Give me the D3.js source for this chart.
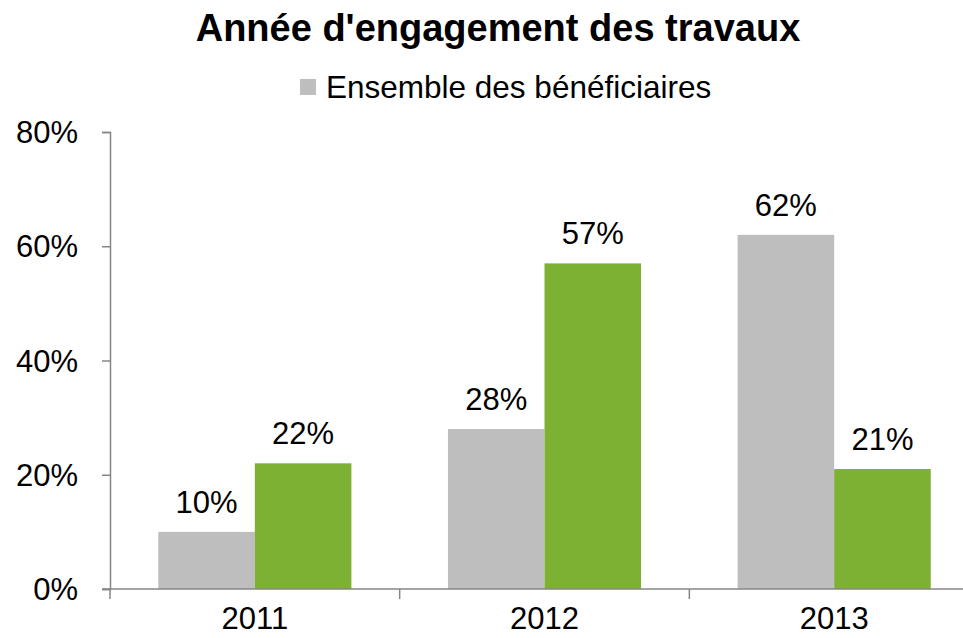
<!DOCTYPE html>
<html>
<head>
<meta charset="utf-8">
<script src="https://cdn.jsdelivr.net/npm/d3@7"></script>
<style>
  body { margin: 0; background: #fff; }
  text { font-family: "Liberation Sans", Arial, sans-serif; fill: #000; }
</style>
</head>
<body>
<svg id="chart" width="963" height="638"></svg>
<script>
const years = ["2011", "2012", "2013"];
const ensemble = [10, 28, 62];
const autre = [22, 57, 21];
const yTicks = [0, 20, 40, 60, 80];
const seriesNames = ["Ensemble des bénéficiaires", ""];
const colors = ["#bebebe", "#7cb133"];

const svg = d3.select("#chart");
const margin = {left: 110, top: 132, bottom: 49};
const plotW = 869;
const H = 638;

const x = d3.scaleBand()
  .domain(years)
  .range([margin.left, margin.left + plotW])
  .paddingInner(1/3)
  .paddingOuter(1/6);

const xSub = d3.scaleBand()
  .domain([0, 1])
  .range([0, x.bandwidth()]);

const y = d3.scaleLinear()
  .domain([0, 80])
  .range([H - margin.bottom, margin.top]);

// title
svg.append("text")
  .attr("x", 498)
  .attr("y", 41)
  .attr("text-anchor", "middle")
  .style("font-size", "38px")
  .style("font-weight", "bold")
  .text("Année d'engagement des travaux");

// legend (only the grey series is listed)
const leg = svg.append("g").attr("transform", "translate(300,79)");
leg.append("rect")
  .attr("width", 16).attr("height", 16)
  .attr("fill", colors[0]);
leg.append("text")
  .attr("x", 26).attr("y", 19)
  .style("font-size", "31.5px")
  .text(seriesNames[0]);

// bars
const rows = years.map((yr, i) => ({year: yr, vals: [ensemble[i], autre[i]]}));

const groups = svg.append("g")
  .selectAll("g")
  .data(rows)
  .enter()
  .append("g")
  .attr("transform", d => `translate(${x(d.year)},0)`);

groups.selectAll("rect")
  .data(d => d.vals)
  .enter()
  .append("rect")
  .attr("x", (d, i) => xSub(i))
  .attr("width", xSub.bandwidth())
  .attr("y", d => y(d))
  .attr("height", d => y(0) - y(d))
  .attr("fill", (d, i) => colors[i]);

groups.selectAll(".lbl")
  .data(d => d.vals)
  .enter()
  .append("text")
  .attr("class", "lbl")
  .attr("x", (d, i) => xSub(i) + xSub.bandwidth() / 2)
  .attr("y", d => y(d) - 19)
  .attr("text-anchor", "middle")
  .style("font-size", "31px")
  .text(d => d + "%");

// y axis
const yAxis = svg.append("g")
  .attr("transform", `translate(${margin.left},0)`)
  .call(d3.axisLeft(y).tickValues(yTicks).tickSize(8).tickPadding(24).tickFormat(d => d + "%"));
yAxis.selectAll("text").style("font-size", "31px").attr("dy", "0.34em");

// x axis
const xAxis = svg.append("g")
  .attr("transform", `translate(0,${y(0)})`)
  .call(d3.axisBottom(x).tickSize(0).tickPadding(34));
xAxis.selectAll("text").style("font-size", "31px").attr("dy", "0.2em");
xAxis.select(".domain").remove();
xAxis.append("line")
  .attr("x1", margin.left - 8).attr("x2", 963)
  .attr("y1", 0).attr("y2", 0);
xAxis.selectAll(".sep")
  .data(d3.range(0, years.length + 1))
  .enter()
  .append("line")
  .attr("class", "sep")
  .attr("x1", i => margin.left + i * x.step())
  .attr("x2", i => margin.left + i * x.step())
  .attr("y1", 0).attr("y2", 10);

svg.selectAll(".domain, .tick line, g line").attr("stroke", "#868686").attr("stroke-width", 1.5);
</script>
</body>
</html>
